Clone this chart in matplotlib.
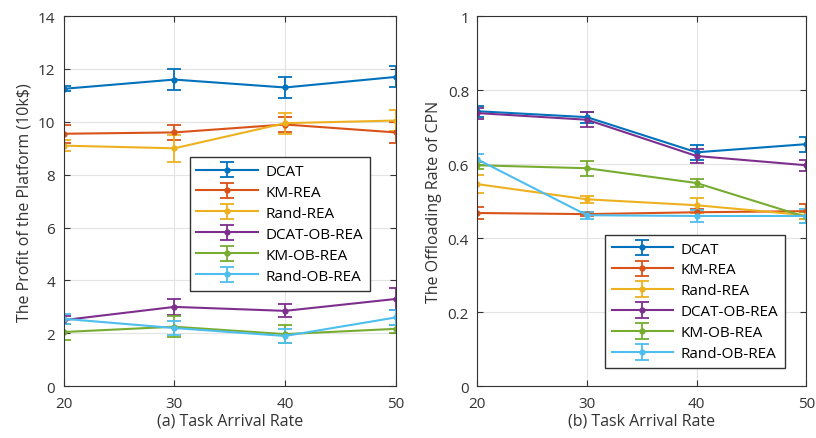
import numpy as np
import matplotlib.pyplot as plt

plt.rcParams['font.family'] = ['Open Sans', 'DejaVu Sans']

# ---------- data ----------
rates = [20, 30, 40, 50]
methods = ["DCAT", "KM-REA", "Rand-REA", "DCAT-OB-REA", "KM-OB-REA", "Rand-OB-REA"]

# (a) profit of the platform (10k$)
profit = {
    "DCAT":        [11.25, 11.6, 11.3, 11.7],
    "KM-REA":      [9.55, 9.6, 9.9, 9.6],
    "Rand-REA":    [9.1, 9.0, 9.95, 10.05],
    "DCAT-OB-REA": [2.5, 3.0, 2.85, 3.3],
    "KM-OB-REA":   [2.05, 2.25, 1.97, 2.17],
    "Rand-OB-REA": [2.55, 2.2, 1.9, 2.6],
}
profit_err = {
    "DCAT":        [0.1, 0.4, 0.4, 0.4],
    "KM-REA":      [0.35, 0.3, 0.3, 0.4],
    "Rand-REA":    [0.2, 0.5, 0.4, 0.4],
    "DCAT-OB-REA": [0.15, 0.3, 0.25, 0.4],
    "KM-OB-REA":   [0.3, 0.4, 0.35, 0.15],
    "Rand-OB-REA": [0.2, 0.25, 0.25, 0.3],
}

# (b) offloading rate of CPN
offload = {
    "DCAT":        [0.743, 0.727, 0.632, 0.654],
    "KM-REA":      [0.468, 0.465, 0.470, 0.473],
    "Rand-REA":    [0.546, 0.505, 0.489, 0.462],
    "DCAT-OB-REA": [0.738, 0.720, 0.622, 0.597],
    "KM-OB-REA":   [0.597, 0.589, 0.549, 0.457],
    "Rand-OB-REA": [0.613, 0.462, 0.460, 0.460],
}
offload_err = {
    "DCAT":        [0.015, 0.015, 0.02, 0.02],
    "KM-REA":      [0.015, 0.006, 0.01, 0.02],
    "Rand-REA":    [0.025, 0.01, 0.02, 0.01],
    "DCAT-OB-REA": [0.015, 0.02, 0.02, 0.015],
    "KM-OB-REA":   [0.01, 0.02, 0.01, 0.015],
    "Rand-OB-REA": [0.015, 0.01, 0.015, 0.02],
}

colors = ["#0072BD", "#D95319", "#EDB120", "#7E2F8E", "#77AC30", "#4DBEEE"]

fig = plt.figure(figsize=(8.16, 4.39), dpi=100)
ax_a = fig.add_axes([0.078, 0.118, 0.407, 0.843])
ax_b = fig.add_axes([0.585, 0.118, 0.403, 0.843])


def draw(ax, values, errors):
    for name, c in zip(methods, colors):
        ax.errorbar(rates, values[name], yerr=errors[name], color=c, marker="o",
                    markersize=3.5, linewidth=1.5, capsize=5, capthick=1.3,
                    elinewidth=1.3, label=name)
    ax.set_xlim(20, 50)
    ax.set_xticks(rates)
    ax.grid(True, color="#e3e3e3", linewidth=0.8)
    ax.set_axisbelow(True)
    ax.tick_params(direction="in", top=True, right=True, labelsize=11,
                   colors="#333333", length=4)
    ax.tick_params(axis="x", pad=7)
    ax.tick_params(axis="y", pad=6)
    for sp in ax.spines.values():
        sp.set_color("#333333")


def add_legend(ax, **kw):
    leg = ax.legend(fontsize=11, handlelength=4.0, frameon=True, fancybox=False,
                    borderpad=0.45, labelspacing=0.39, handletextpad=0.5, **kw)
    leg.get_frame().set_edgecolor("#333333")
    leg.get_frame().set_alpha(1)


draw(ax_a, profit, profit_err)
ax_a.set_ylim(0, 14)
ax_a.set_yticks(np.arange(0, 15, 2))
ax_a.set_ylabel("The Profit of the Platform (10k\\$)", fontsize=11.5, color="#333333")
ax_a.set_xlabel("(a) Task Arrival Rate", fontsize=11.5, color="#333333", labelpad=1)
add_legend(ax_a, loc="upper left", bbox_to_anchor=(0.356, 0.64))

draw(ax_b, offload, offload_err)
ax_b.set_ylim(0, 1)
ax_b.set_yticks([0, 0.2, 0.4, 0.6, 0.8, 1])
ax_b.set_yticklabels(["0", "0.2", "0.4", "0.6", "0.8", "1"])
ax_b.set_ylabel("The Offloading Rate of CPN", fontsize=11.5, color="#333333")
ax_b.set_xlabel("(b) Task Arrival Rate", fontsize=11.5, color="#333333", labelpad=1)
add_legend(ax_b, loc="lower right", bbox_to_anchor=(0.958, 0.028))

fig.savefig("out.png", dpi=100)
